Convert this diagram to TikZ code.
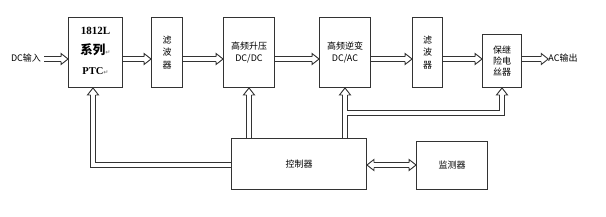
\documentclass[tikz,border=0pt]{standalone}
\usepackage{fontspec}
\setmainfont{Noto Sans CJK SC}
\newfontfamily\ptcfont{Liberation Serif}
\newfontfamily\markfont{DejaVu Sans}
\usepackage{tikz}
\usetikzlibrary{arrows.meta,positioning,decorations.markings}
\newcommand{\retmark}{{\markfont\color{black!50}\fontsize{6}{6}\selectfont ↵}}

\tikzset{
  headend/.style={draw=black!80,line width=0.9pt,fill=white,shorten >=0pt,shorten <=0pt},
  dbl/.style={draw=white,line width=4pt,shorten >=5pt,
    preaction={draw=black!80,line width=6pt},
    postaction={decorate},
    decoration={markings,mark=at position 1 with
      {\draw[headend] (-7pt,2.5pt) -- (-7pt,5.5pt) -- (0pt,0pt) -- (-7pt,-5.5pt) -- (-7pt,-2.5pt);}}},
  dblboth/.style={draw=white,line width=4pt,shorten >=5pt,shorten <=5pt,
    preaction={draw=black!80,line width=6pt},
    postaction={decorate},
    decoration={markings,
      mark=at position 0 with
      {\draw[headend] (7pt,2.5pt) -- (7pt,5.5pt) -- (0pt,0pt) -- (7pt,-5.5pt) -- (7pt,-2.5pt);},
      mark=at position 1 with
      {\draw[headend] (-7pt,2.5pt) -- (-7pt,5.5pt) -- (0pt,0pt) -- (-7pt,-5.5pt) -- (-7pt,-2.5pt);}}}
}

\begin{document}
\begin{tikzpicture}[x=1pt,y=-1pt,
  blk/.style={draw=black!80,line width=0.9pt,align=center,inner sep=1pt,
    font=\fontsize{9}{12.5}\selectfont},
  lbl/.style={font=\fontsize{9}{11}\selectfont,inner sep=0pt}]
\useasboundingbox (0,0) rectangle (606,217);
\coordinate (mid) at (0,59);
\node[blk,minimum width=54pt,minimum height=70pt,font=\fontsize{11}{12}\selectfont]
  (ptc) at (95.5,52.5)
  {\begin{tabular}{@{}c@{}}
   \ptcfont\bfseries 1812L\\[5.5pt]
   \bfseries\fontsize{12.5}{14}\selectfont 系列\retmark\\[8pt]
   \ptcfont\bfseries\fontsize{10.5}{12}\selectfont PTC\retmark
   \end{tabular}};
\node[blk,minimum width=31pt,minimum height=70pt] (filta) at (167,52.5) {滤\\波\\器};
\node[blk,minimum width=51pt,minimum height=70pt] (boost) at (249,52.5) {高频升压\\DC/DC};
\node[blk,minimum width=51pt,minimum height=70pt] (inv) at (345,52.5) {高频逆变\\DC/AC};
\node[blk,minimum width=30pt,minimum height=70pt] (filtb) at (427.5,52.5) {滤\\波\\器};
\node[blk,minimum width=39pt,minimum height=53pt,font=\fontsize{9}{11}\selectfont]
  (fuse) at (502,61) {保继\\险电\\丝器};
\node[blk,minimum width=135pt,minimum height=51pt] (ctrl) at (299,164) {控制器};
\node[blk,minimum width=71pt,minimum height=48pt] (mon) at (452,165.5) {监测器};
\node[lbl] (dcin) at (26,58) {DC输入};
\node[lbl] (acout) at (563,58) {AC输出};
% main chain
\draw[dbl] ([xshift=3pt]dcin.east |- mid) -- (ptc.west |- mid);
\foreach \a/\b in {ptc/filta,filta/boost,boost/inv,inv/filtb,filtb/fuse}
  \draw[dbl] (\a.east |- mid) -- (\b.west |- mid);
\draw[dbl] (fuse.east |- mid) -- (acout.west |- mid);
% control feedback
\draw[dbl] ([yshift=-1pt]ctrl.west) -| ([xshift=-2.5pt]ptc.south);
\draw[dbl] (boost.south |- ctrl.north) -- (boost.south);
\draw[dbl] (inv.south |- ctrl.north) -- (inv.south);
\coordinate (br) at ([xshift=2pt]inv.south |- 0,113);
\draw[dbl] (br) -| (fuse.south);
\draw[dblboth] ([yshift=-1pt]ctrl.east) -- ([yshift=-1pt]ctrl.east -| mon.west);
\end{tikzpicture}
\end{document}
